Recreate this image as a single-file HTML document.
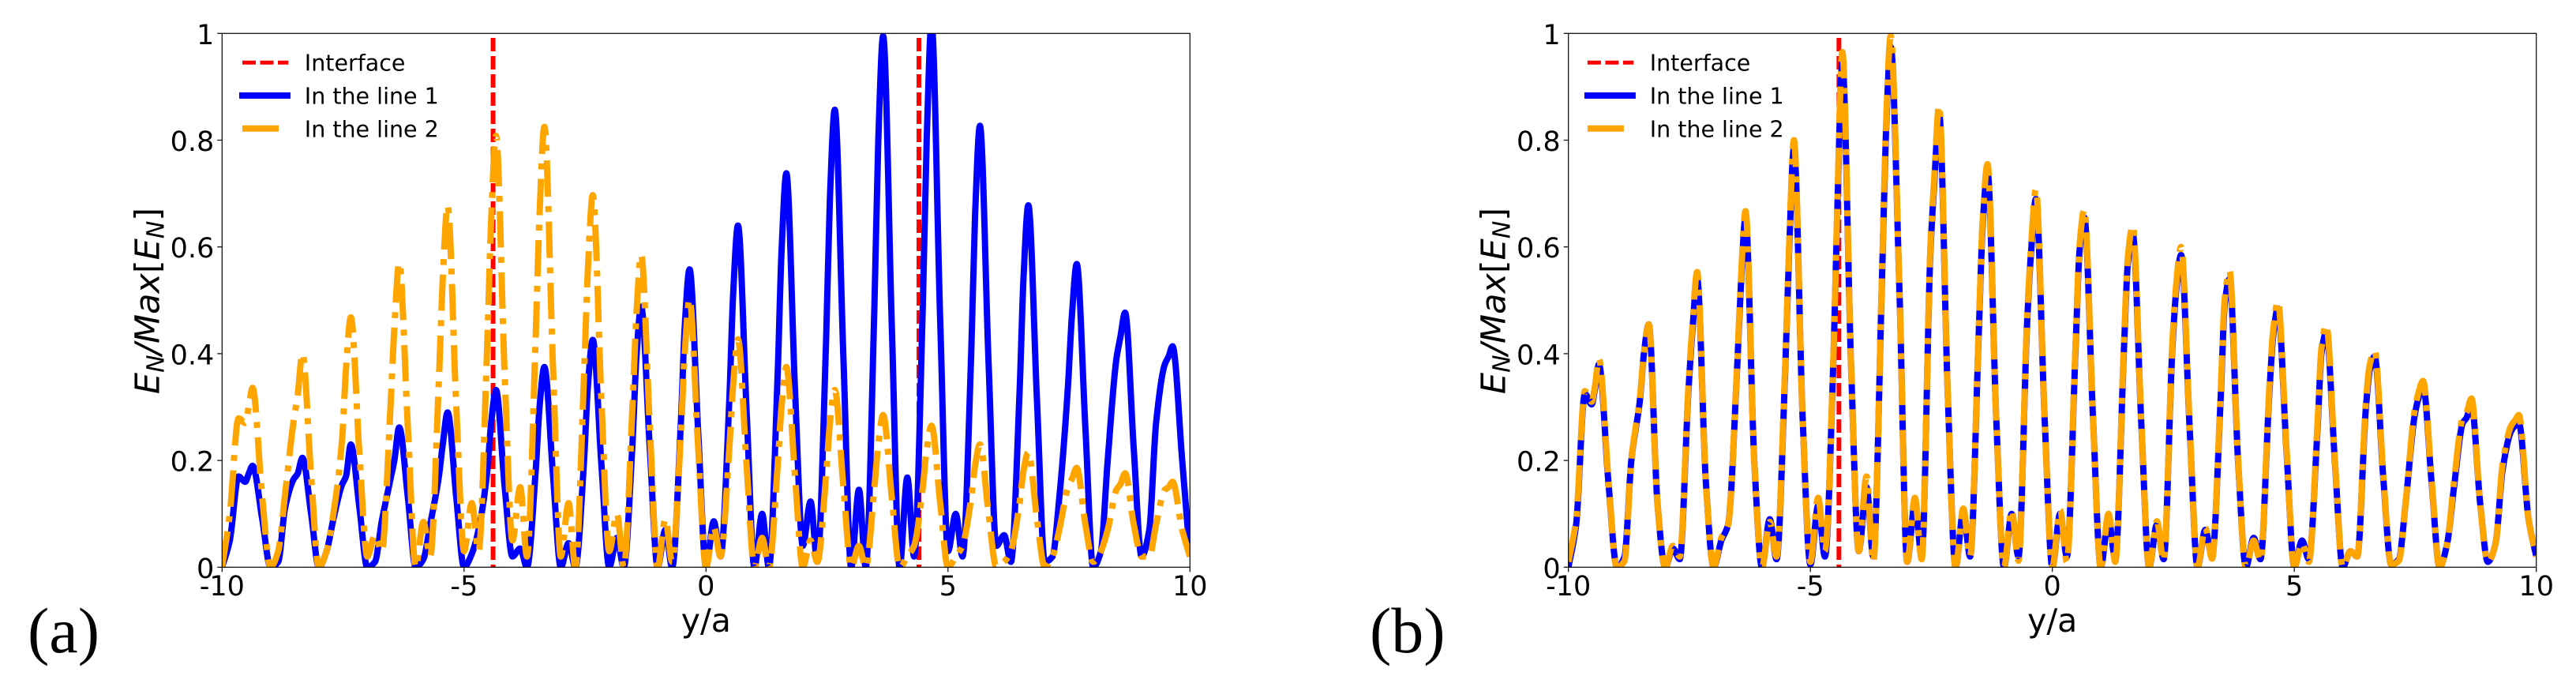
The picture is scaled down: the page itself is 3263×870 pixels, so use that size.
<!DOCTYPE html>
<html lang="en">
<head>
<meta charset="utf-8">
<title>Normalised field profile along y/a</title>
<style>
html,body{margin:0;padding:0;background:#fff;}
svg{display:block;}
text{font-family:"DejaVu Sans","Liberation Sans",sans-serif;fill:#000;}
.panel-letter{font-family:"Liberation Serif",serif;font-size:82px;}
</style>
</head>
<body>
<svg id="figure" xmlns="http://www.w3.org/2000/svg" width="3263" height="870" viewBox="0 0 3263 870"></svg>
<script>
// ---------- shared sample positions (y/a) ----------
const positions = [
-10,-9.84,-9.66,-9.52,-9.45,-9.37,-9.17,
-9,-8.84,-8.7,-8.52,-8.44,-8.34,-8.16,
-8,-7.84,-7.7,-7.52,-7.44,-7.34,-7.16,
-7,-6.84,-6.7,-6.52,-6.44,-6.34,-6.16,
-6,-5.84,-5.7,-5.52,-5.44,-5.34,-5.16,
-5,-4.84,-4.7,-4.52,-4.44,-4.34,-4.16,
-4,-3.84,-3.7,-3.52,-3.44,-3.34,-3.16,
-3,-2.84,-2.7,-2.52,-2.44,-2.34,-2.16,
-2,-1.84,-1.7,-1.52,-1.44,-1.34,-1.16,
-1,-0.84,-0.7,-0.52,-0.44,-0.34,-0.16,
0,0.16,0.3,0.48,0.56,0.66,0.84,
1,1.16,1.3,1.48,1.56,1.66,1.84,
2,2.16,2.3,2.48,2.56,2.66,2.84,
3,3.16,3.3,3.48,3.56,3.66,3.84,
4,4.16,4.3,4.48,4.56,4.66,4.84,
5,5.16,5.3,5.48,5.56,5.66,5.84,
6,6.16,6.3,6.48,6.56,6.66,6.84,
7,7.16,7.3,7.48,7.56,7.66,7.84,
8,8.16,8.3,8.48,8.56,8.66,8.84,
9,9.16,9.3,9.48,9.56,9.64,9.84,
10];

// ---------- panel (a) series ----------
const panelALine1 = [
0,0.05,0.17,0.16,0.175,0.19,0.09,
0,0.01,0.11,0.165,0.175,0.205,0.1,
0,0.03,0.09,0.155,0.17,0.23,0.11,
0,0.01,0.086,0.165,0.2,0.262,0.13,
0,0.015,0.08,0.17,0.23,0.29,0.13,
0,0.025,0.07,0.18,0.27,0.332,0.15,
0.02,0.035,0,0.18,0.3,0.375,0.17,
0,0.045,0,0.2,0.34,0.426,0.19,
0,0.055,0,0.23,0.39,0.488,0.22,
0,0.07,0,0.27,0.45,0.558,0.25,
0,0.086,0.02,0.31,0.51,0.64,0.29,
0,0.1,0,0.36,0.59,0.738,0.33,
0.04,0.123,0.01,0.42,0.69,0.857,0.39,
0,0.145,0,0.49,0.8,0.995,0.45,
0,0.168,0.02,0.49,0.8,1.02,0.46,
0.03,0.1,0.02,0.4,0.66,0.827,0.38,
0.04,0.06,0.01,0.33,0.54,0.678,0.31,
0.01,0.02,0.13,0.34,0.47,0.568,0.26,
0,0.03,0.2,0.39,0.43,0.477,0.22,
0.02,0.07,0.27,0.38,0.395,0.414,0.2,
0.02];
const panelALine2 = [
0,0.1,0.279,0.27,0.3,0.336,0.13,
0,0.03,0.135,0.275,0.32,0.4,0.17,
0,0.03,0.1,0.24,0.37,0.468,0.21,
0.02,0.06,0.03,0.3,0.45,0.57,0.26,
0,0.085,0.02,0.35,0.54,0.677,0.3,
0.03,0.12,0.03,0.42,0.65,0.808,0.36,
0.05,0.15,0.02,0.43,0.66,0.825,0.37,
0.02,0.12,0,0.36,0.56,0.697,0.31,
0.03,0.1,0,0.3,0.47,0.585,0.26,
0,0.09,0.01,0.25,0.4,0.502,0.22,
0,0.075,0.02,0.22,0.34,0.427,0.19,
0,0.055,0,0.19,0.3,0.375,0.17,
0,0.05,0.01,0.17,0.27,0.332,0.15,
0,0.04,0,0.15,0.23,0.285,0.13,
0,0.02,0.04,0.15,0.22,0.265,0.12,
0,0.02,0.04,0.13,0.19,0.23,0.1,
0,0.01,0.03,0.12,0.18,0.215,0.09,
0,0.02,0.07,0.15,0.165,0.186,0.08,
0.01,0.03,0.07,0.145,0.155,0.176,0.08,
0.02,0.02,0.08,0.145,0.15,0.16,0.07,
0.02];

// ---------- panel (b) series ----------
const panelBLine1 = [
0,0.08,0.325,0.305,0.335,0.38,0.155,
0,0.02,0.2,0.315,0.4,0.455,0.12,
0,0.035,0.015,0.33,0.44,0.54,0.16,
0,0.05,0.08,0.36,0.52,0.655,0.2,
0,0.09,0.015,0.37,0.59,0.785,0.28,
0.005,0.115,0.02,0.4,0.68,0.945,0.38,
0.03,0.15,0.02,0.54,0.81,0.975,0.52,
0.01,0.12,0.02,0.59,0.72,0.85,0.32,
0,0.105,0.02,0.44,0.64,0.74,0.28,
0,0.1,0.02,0.46,0.59,0.69,0.28,
0,0.1,0.02,0.41,0.59,0.655,0.28,
0,0.09,0.015,0.41,0.57,0.625,0.265,
0,0.08,0.015,0.41,0.52,0.585,0.255,
0,0.07,0.02,0.32,0.49,0.54,0.195,
0,0.055,0.015,0.32,0.43,0.485,0.215,
0,0.05,0.015,0.26,0.4,0.44,0.195,
0,0.03,0.02,0.3,0.37,0.395,0.165,
0.005,0.015,0.12,0.28,0.315,0.34,0.155,
0,0.045,0.15,0.27,0.28,0.305,0.12,
0.01,0.045,0.18,0.255,0.265,0.27,0.09,
0.02];
const panelBLine2 = [
0.01,0.09,0.33,0.31,0.34,0.39,0.16,
0,0.012,0.2,0.32,0.4,0.455,0.12,
0,0.04,0.02,0.34,0.45,0.553,0.16,
0,0.055,0.08,0.365,0.53,0.667,0.2,
0,0.085,0.02,0.38,0.6,0.8,0.28,
0.01,0.13,0.03,0.405,0.69,0.965,0.38,
0.03,0.17,0.01,0.55,0.82,0.995,0.52,
0.01,0.13,0.015,0.6,0.73,0.865,0.32,
0,0.11,0.02,0.45,0.65,0.755,0.28,
0,0.107,0.012,0.47,0.6,0.708,0.28,
0,0.107,0.01,0.42,0.6,0.67,0.28,
0,0.1,0.01,0.42,0.58,0.64,0.27,
0,0.086,0.012,0.42,0.53,0.6,0.26,
0,0.074,0.016,0.33,0.5,0.555,0.2,
0,0.05,0.012,0.33,0.44,0.498,0.22,
0,0.045,0.01,0.27,0.41,0.454,0.2,
0,0.03,0.02,0.31,0.38,0.405,0.17,
0.005,0.012,0.12,0.29,0.325,0.349,0.16,
0,0.045,0.16,0.28,0.29,0.316,0.12,
0.01,0.045,0.19,0.265,0.275,0.285,0.09,
0.02];

// ---------- ticks, interfaces, labels ----------
const xTickValues = [-10,-5,0,5,10];
const xTickLabels = ['-10','-5','0','5','10'];
const yTickValues = [0,0.2,0.4,0.6,0.8,1];
const yTickLabels = ['0','0.2','0.4','0.6','0.8','1'];
const panelAInterfaces = [-4.4,4.4];
const panelBInterfaces = [-4.41];
const legendLabels = ['Interface','In the line 1','In the line 2'];

const NS = 'http://www.w3.org/2000/svg';
const fig = document.getElementById('figure');

function make(tag, parent, props){
  const el = document.createElementNS(NS, tag);
  for (const k in props) el.setAttribute(k, props[k]);
  parent.appendChild(el);
  return el;
}

// monotone cubic path through the samples
function monotonePath(xs, ys){
  const n = xs.length, dx = [], m = [], t = [];
  for (let i = 0; i < n - 1; i++){
    dx[i] = xs[i+1] - xs[i];
    m[i] = (ys[i+1] - ys[i]) / dx[i];
  }
  t[0] = m[0]; t[n-1] = m[n-2];
  for (let i = 1; i < n - 1; i++){
    if (m[i-1] * m[i] <= 0) t[i] = 0;
    else {
      const w1 = 2*dx[i] + dx[i-1], w2 = dx[i] + 2*dx[i-1];
      t[i] = (w1 + w2) / (w1 / m[i-1] + w2 / m[i]);
    }
  }
  let d = 'M' + xs[0].toFixed(2) + ' ' + ys[0].toFixed(2);
  for (let i = 0; i < n - 1; i++){
    const h = dx[i] / 3;
    d += 'C' + (xs[i]+h).toFixed(2) + ' ' + (ys[i]+t[i]*h).toFixed(2) + ' ' +
         (xs[i+1]-h).toFixed(2) + ' ' + (ys[i+1]-t[i+1]*h).toFixed(2) + ' ' +
         xs[i+1].toFixed(2) + ' ' + ys[i+1].toFixed(2);
  }
  return d;
}

function drawPanel(id, left, right, line1, line2, interfaces, legendDx, letter, letterX){
  const top = 42.3, bottom = 718.3;
  const xScale = v => left + (v + 10) / 20 * (right - left);
  const yScale = v => bottom - v * (bottom - top);

  const g = make('g', fig, {});
  
  

  const clip = make('clipPath', g, {id: 'clip-' + id});
  make('rect', clip, {x: left, y: top, width: right - left, height: bottom - top});

  const plot = make('g', g, {'clip-path': 'url(#clip-' + id + ')'});
  
  

  interfaces.forEach((v, i) => {
    const ln = make('line', plot, {x1: xScale(v), x2: xScale(v), y1: 48, y2: yScale(0),
      stroke: '#ff0000', 'stroke-width': 6, 'stroke-dasharray': '17 6'});
    
    
  });

  const px = positions.map(xScale);
  const blue = make('path', plot, {d: monotonePath(px, line1.map(yScale)), fill: 'none',
    stroke: '#0000ff', 'stroke-width': 8, 'stroke-linejoin': 'round'});
  
  

  const orange = make('path', plot, {d: monotonePath(px, line2.map(yScale)), fill: 'none',
    stroke: '#ffa500', 'stroke-width': 8, 'stroke-linejoin': 'round',
    'stroke-dasharray': '46 12 7.5 12'});
  
  

  const frame = make('rect', g, {x: left, y: top, width: right - left, height: bottom - top,
    fill: 'none', stroke: '#000', 'stroke-width': 1.2});
  
  

  xTickValues.forEach((v, i) => {
    const tk = make('line', g, {x1: xScale(v), x2: xScale(v), y1: bottom, y2: bottom + 6, stroke: '#000', 'stroke-width': 1.2});
    
    
    const lb = make('text', g, {x: xScale(v), y: 754, 'text-anchor': 'middle', 'font-size': 35});
    lb.textContent = xTickLabels[i];
    
    
  });

  yTickValues.forEach((v, i) => {
    const tk = make('line', g, {x1: left - 6, x2: left, y1: yScale(v), y2: yScale(v), stroke: '#000', 'stroke-width': 1.2});
    
    
    const lb = make('text', g, {x: left - 10, y: yScale(v) + 13.5, 'text-anchor': 'end', 'font-size': 35});
    lb.textContent = yTickLabels[i];
    
    
  });

  const xTitle = make('text', g, {x: xScale(0), y: 800, 'text-anchor': 'middle', 'font-size': 41});
  xTitle.textContent = 'y/a';
  
  

  const baseX = left - 80, midY = 381;
  const yTitle = make('text', g, {transform: 'translate(' + baseX + ' ' + midY + ') rotate(-90)',
    'text-anchor': 'middle', 'font-size': 43});
  
  
  const parts = [['E','italic',43,0],['N','italic',30,6],['/Max','italic',43,-6],['[','normal',43,0],
                 ['E','italic',43,0],['N','italic',30,6],[']','normal',43,-6]];
  parts.forEach(p => {
    const s = make('tspan', yTitle, {'font-style': p[1], 'font-size': p[2], dy: p[3]});
    s.textContent = p[0];
  });

  // legend
  const lx = left + legendDx;
  const legend = make('g', g, {});
  
  
  const l1 = make('line', legend, {x1: lx + 25.7, x2: lx + 84, y1: 79.3, y2: 79.3, stroke: '#ff0000', 'stroke-width': 5, 'stroke-dasharray': '17 5.5'});
  
  
  const l2 = make('line', legend, {x1: lx + 21.7, x2: lx + 86.7, y1: 121, y2: 121, stroke: '#0000ff', 'stroke-width': 8});
  
  
  const l3 = make('line', legend, {x1: lx + 25.7, x2: lx + 71.7, y1: 162.7, y2: 162.7, stroke: '#ffa500', 'stroke-width': 8});
  
  
  const baselines = [89.3, 131.3, 173.3];
  legendLabels.forEach((t, i) => {
    const tx = make('text', legend, {x: lx + 104.5, y: baselines[i], 'font-size': 28.5});
    tx.textContent = t;
    
    
  });

  const pl = make('text', g, {x: letterX, y: 826, class: 'panel-letter'});
  pl.textContent = letter;
  
  
}

drawPanel('a', 281.3, 1507.3, panelALine1, panelALine2, panelAInterfaces, 0, '(a)', 35);
drawPanel('b', 1986.7, 3212.7, panelBLine1, panelBLine2, panelBInterfaces, -1.5, '(b)', 1735);
</script>
</body>
</html>
